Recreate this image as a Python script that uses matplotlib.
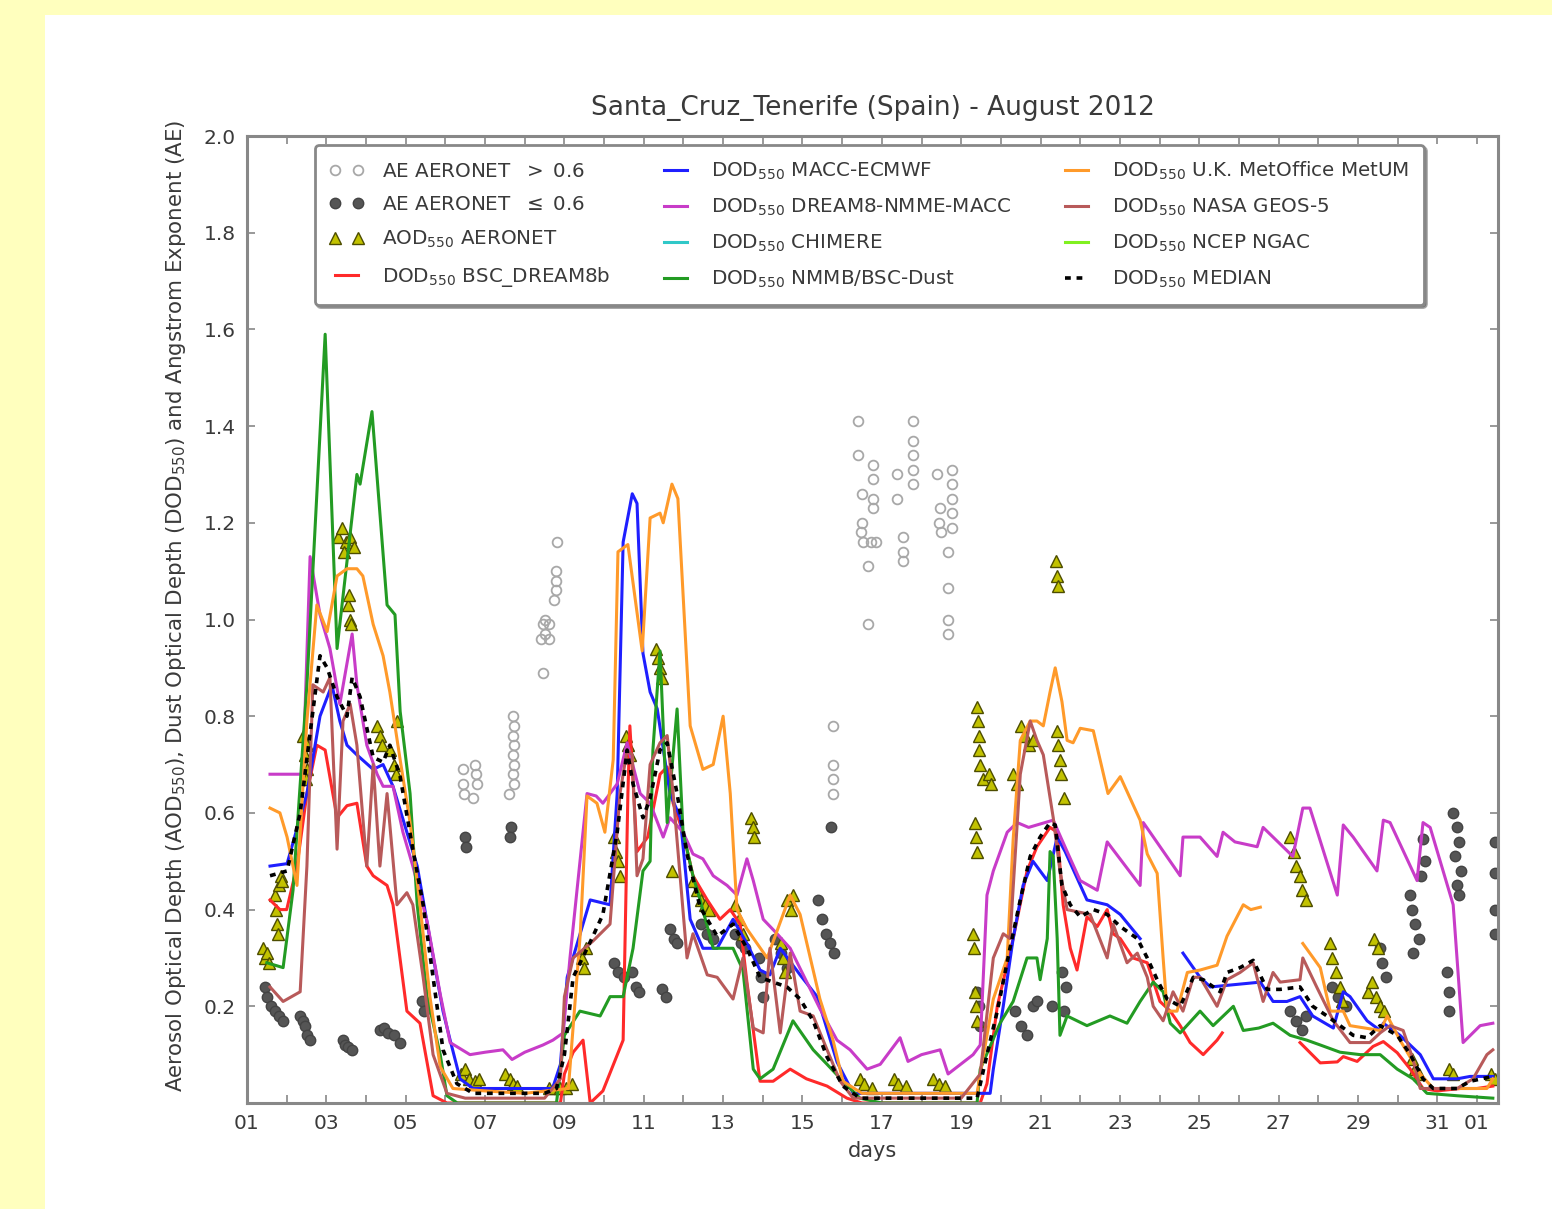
import numpy as np
import matplotlib
matplotlib.use('Agg')
import matplotlib.pyplot as plt
from matplotlib.patches import Rectangle

nan = np.nan

# time in days since 01 Aug 2012 00 UTC, values = optical depth / AE
day_ticks = list(range(0, 32))
day_labels = ['%02d' % (d + 1) if d % 2 == 0 else '' for d in range(31)] + ['01']

# DOD550 BSC_DREAM8b
red_t = [0.58, 0.83, 1.0, 1.26, 1.51, 1.76, 1.97, 2.27, 2.52, 2.77, 3.02, 3.18, 3.53, 3.68, 4.03, 4.36, 4.69, 5.04,
         6.0, 7.0, 7.9, 8.0, 8.22, 8.47, 8.65, 8.97, 9.48, 9.60, 9.65, 9.83, 10.1, 10.41, 10.59, 10.74, 10.99, 11.24,
         11.6, 11.92, 12.18, 12.43, 12.60, 12.93, 13.26, 13.69, 14.1, 14.62, 15.12, 15.5, 16.5, 17.5, 18.48,
         18.65, 18.91, 19.31, 19.66, 19.91, 20.24, 20.42, 20.57, 20.75, 20.92, 21.17, 21.43, 21.68, 21.83, 22.01,
         22.33, 22.69, 23.01, 23.27, 23.52, 23.77, 24.10, 24.45, 24.58, 25.5,
         26.54, 27.05, 27.48, 27.63, 27.98, 28.38, 28.64, 28.99, 29.32, 29.64, 30.0, 30.58, 31.0, 31.40]
red_v = [0.42, 0.40, 0.40, 0.49, 0.64, 0.74, 0.73, 0.59, 0.615, 0.62, 0.49, 0.47, 0.45, 0.41, 0.19, 0.165, 0.015, 0.0,
         0.0, 0.0, 0.0, 0.06, 0.105, 0.13, 0.0, 0.025, 0.13, 0.64, 0.78, 0.52, 0.55, 0.68, 0.695, 0.62, 0.56, 0.47,
         0.42, 0.38, 0.40, 0.37, 0.25, 0.045, 0.045, 0.07, 0.05, 0.035, 0.01, 0.0, 0.0, 0.0, 0.0,
         0.04, 0.20, 0.34, 0.48, 0.53, 0.57, 0.56, 0.41, 0.32, 0.275, 0.385, 0.365, 0.40, 0.35, 0.34,
         0.30, 0.29, 0.21, 0.19, 0.16, 0.125, 0.10, 0.13, 0.145, nan,
         0.125, 0.083, 0.085, 0.096, 0.086, 0.117, 0.127, 0.104, 0.07, 0.03, 0.025, 0.03, 0.03, 0.035]

# DOD550 MACC-ECMWF
blue_t = [0.58, 1.01, 1.51, 1.84, 2.14, 2.34, 2.52, 2.77, 3.18, 3.43, 3.68, 4.03, 4.29, 4.61, 4.94, 5.12, 5.37, 5.70,
          6.5, 7.5, 7.7, 7.9, 8.07, 8.65, 9.15, 9.33, 9.48, 9.71, 9.83, 9.98, 10.16, 10.34, 10.66, 10.92, 11.17,
          11.49, 11.85, 12.25, 12.60, 12.93, 13.18, 13.44, 13.94, 14.37, 14.87, 15.28, 16.0, 17.0, 18.0, 18.73,
          18.81, 19.06, 19.31, 19.56, 19.81, 20.17, 20.42, 20.62, 21.17, 21.68, 22.01, 22.51, 23.0,
          23.59, 24.02, 24.28, 25.54, 25.86, 26.21, 26.54, 26.86, 27.38, 27.63, 27.8, 28.23, 28.56, 28.64, 29.06,
          29.57, 29.90, 30.5, 30.83, 31.40]
blue_v = [0.49, 0.495, 0.64, 0.80, 0.865, 0.79, 0.74, 0.72, 0.69, 0.70, 0.655, 0.56, 0.49, 0.34, 0.19, 0.13, 0.05, 0.03,
          0.03, 0.03, 0.03, 0.08, 0.26, 0.42, 0.41, 0.64, 1.16, 1.26, 1.24, 0.93, 0.85, 0.815, 0.64, 0.59, 0.38,
          0.32, 0.32, 0.38, 0.33, 0.275, 0.265, 0.32, 0.265, 0.22, 0.085, 0.02, 0.02, 0.02, 0.02, 0.02,
          0.07, 0.20, 0.34, 0.45, 0.50, 0.46, 0.55, 0.52, 0.42, 0.41, 0.39, 0.34, nan,
          0.31, 0.26, 0.24, 0.25, 0.21, 0.21, 0.22, 0.18, 0.155, 0.23, 0.22, 0.17, 0.15, 0.165, 0.14,
          0.10, 0.05, 0.05, 0.055, 0.055]

# DOD550 DREAM8-NMME-MACC
mag_t = [0.58, 1.41, 1.59, 1.84, 2.09, 2.34, 2.65, 2.77, 3.02, 3.28, 3.43, 3.68, 3.93, 4.18, 4.54, 4.87, 5.12, 5.62,
         6.0, 6.45, 6.68, 7.0, 7.46, 7.71, 7.97, 8.14, 8.57, 8.8, 8.97, 9.33, 9.58, 9.91, 10.16, 10.49, 10.66, 10.99,
         11.24, 11.49, 11.75, 12.10, 12.35, 12.60, 12.76, 13.01, 13.36, 13.69, 14.02, 14.44, 14.87, 15.20, 15.63,
         15.96, 16.46, 16.66, 17.0, 17.47, 17.67, 18.30, 18.48, 18.65, 18.81, 19.16, 19.41, 19.7, 20.32, 20.67,
         21.0, 21.43, 21.68, 22.51, 22.59, 22.76, 23.52, 23.59, 24.02, 24.45, 24.60, 24.9, 25.46, 25.61, 26.36,
         26.61, 26.79, 27.48, 27.63, 27.88, 28.48, 28.64, 28.81, 29.49, 29.64, 29.82, 30.40, 30.65, 31.08, 31.40]
mag_v = [0.68, 0.68, 1.13, 1.01, 0.94, 0.825, 0.97, 0.865, 0.74, 0.68, 0.655, 0.655, 0.56, 0.49, 0.375, 0.225, 0.125, 0.10,
         0.105, 0.11, 0.09, 0.105, 0.12, 0.13, 0.145, 0.30, 0.64, 0.635, 0.62, 0.66, 0.745, 0.64, 0.62, 0.55, 0.59, 0.56,
         0.515, 0.505, 0.47, 0.45, 0.43, 0.505, 0.46, 0.38, 0.35, 0.32, 0.265, 0.195, 0.13, 0.11, 0.07,
         0.08, 0.135, 0.086, 0.10, 0.11, 0.06, 0.10, 0.12, 0.43, 0.48, 0.56, 0.58, 0.57, 0.585, 0.52,
         0.46, 0.44, 0.54, 0.45, 0.58, 0.56, 0.47, 0.55, 0.55, 0.51, 0.56, 0.54, 0.53, 0.57, 0.51,
         0.61, 0.61, 0.43, 0.575, 0.55, 0.48, 0.585, 0.58, 0.46, 0.58, 0.57, 0.41, 0.125, 0.16, 0.165]

# DOD550 U.K. MetOffice MetUM
org_t = [0.58, 0.83, 1.01, 1.26, 1.51, 1.76, 2.02, 2.27, 2.52, 2.77, 2.92, 3.18, 3.43, 3.60, 3.86, 4.11, 4.36, 4.61, 4.87,
         5.19, 6.0, 7.0, 8.1, 8.4, 8.57, 8.82, 9.02, 9.23, 9.35, 9.60, 9.96, 10.16, 10.41, 10.49, 10.71, 10.86, 11.17,
         11.49, 11.75, 12.0, 12.18, 12.35, 12.60, 13.11, 13.69, 13.94, 14.44, 14.77, 15.02, 15.5, 16.5, 17.5, 18.40,
         18.48, 18.81, 19.16, 19.31, 19.49, 19.74, 19.91, 20.07, 20.24, 20.37, 20.54, 20.67, 20.82, 21.0, 21.33,
         21.70, 22.01, 22.51, 22.69, 22.94, 23.09, 23.19, 23.44, 23.70, 24.02, 24.45, 24.70, 25.11, 25.3, 25.54, 26.0,
         26.61, 27.05, 27.30, 27.63, 27.80, 28.56, 28.74, 29.06, 29.57, 29.90, 30.65, 31.25, 31.40]
org_v = [0.61, 0.60, 0.55, 0.45, 0.79, 1.03, 0.975, 1.09, 1.105, 1.105, 1.09, 0.99, 0.925, 0.85, 0.71, 0.58, 0.41, 0.22, 0.075,
         0.03, 0.025, 0.02, 0.03, 0.35, 0.635, 0.62, 0.56, 0.71, 1.14, 1.155, 0.935, 1.21, 1.22, 1.20, 1.28, 1.25, 0.78,
         0.69, 0.70, 0.80, 0.64, 0.40, 0.36, 0.30, 0.43, 0.39, 0.215, 0.13, 0.045, 0.02, 0.02, 0.02, 0.02,
         0.06, 0.215, 0.30, 0.545, 0.75, 0.79, 0.79, 0.78, 0.85, 0.90, 0.83, 0.75, 0.745, 0.775, 0.77,
         0.64, 0.675, 0.585, 0.515, 0.475, 0.30, 0.19, 0.19, 0.27, 0.275, 0.285, 0.345, 0.41, 0.40, 0.405, nan,
         0.33, 0.28, 0.19, 0.19, 0.16, 0.15, 0.18, 0.13, 0.06, 0.03, 0.03, 0.03, 0.05]

# DOD550 NASA GEOS-5
brn_t = [0.58, 0.91, 1.34, 1.51, 1.66, 1.92, 2.09, 2.27, 2.42, 2.60, 2.77, 3.02, 3.18, 3.35, 3.53, 3.78, 4.03, 4.18, 4.44,
         4.69, 5.04, 5.5, 6.5, 7.5, 7.9, 8.0, 8.22, 8.72, 9.15, 9.40, 9.58, 9.71, 9.83, 9.98, 10.16, 10.41, 10.59,
         10.74, 11.09, 11.24, 11.60, 11.85, 12.25, 12.50, 12.76, 13.01, 13.18, 13.44, 13.69, 13.94, 14.27, 14.62,
         14.95, 15.28, 16.0, 17.0, 18.0, 18.48, 18.81, 19.06, 19.23, 19.49, 19.74, 19.91, 20.07, 20.32, 20.49,
         20.67, 21.25, 21.68, 21.83, 22.18, 22.44, 22.69, 22.84, 23.09, 23.34, 23.59, 23.85, 24.02, 24.45, 24.70,
         25.03, 25.36, 25.61, 25.86, 26.04, 26.54, 26.61, 26.96, 27.38, 27.80, 28.3, 28.56, 28.81, 29.14, 29.39,
         29.57, 30.5, 30.90, 31.25, 31.40]
brn_v = [0.24, 0.21, 0.23, 0.49, 0.865, 0.85, 0.88, 0.525, 0.79, 0.825, 0.74, 0.49, 0.70, 0.49, 0.64, 0.41, 0.435, 0.41, 0.26,
         0.10, 0.02, 0.01, 0.01, 0.01, 0.05, 0.22, 0.30, 0.335, 0.37, 0.64, 0.73, 0.72, 0.47, 0.505, 0.70, 0.745, 0.76,
         0.64, 0.30, 0.35, 0.265, 0.26, 0.215, 0.30, 0.155, 0.145, 0.32, 0.145, 0.31, 0.19, 0.18, 0.11,
         0.045, 0.01, 0.01, 0.01, 0.01, 0.06, 0.30, 0.35, 0.34, 0.68, 0.79, 0.75, 0.72, 0.59, 0.48,
         0.40, 0.39, 0.30, 0.37, 0.29, 0.31, 0.26, 0.20, 0.17, 0.23, 0.19, 0.26, 0.26, 0.20, 0.255,
         0.27, 0.29, 0.21, 0.27, 0.25, 0.255, 0.30, 0.24, 0.17, 0.125, 0.125, 0.145, 0.16, 0.15, 0.09,
         0.03, 0.03, 0.05, 0.10, 0.11]

# DOD550 NMMB/BSC-Dust
grn_t = [0.50, 0.91, 1.16, 1.51, 1.97, 2.27, 2.77, 2.85, 3.15, 3.53, 3.73, 3.86, 4.11, 4.29, 4.54, 4.87, 5.04, 5.3,
         6.5, 7.8, 8.0, 8.39, 8.90, 9.15, 9.48, 9.73, 9.98, 10.16, 10.23, 10.41, 10.59, 10.84, 10.99, 11.24, 11.42,
         11.75, 12.25, 12.50, 12.76, 12.93, 13.26, 13.76, 14.27, 14.62, 15.02, 15.45, 16.0, 17.0, 18.0, 18.40,
         18.48, 18.98, 19.31, 19.66, 19.91, 19.99, 20.17, 20.24, 20.32, 20.42, 20.49, 20.67, 21.17, 21.75, 22.18,
         22.51, 22.84, 23.09, 23.27, 23.52, 24.02, 24.35, 24.86, 25.11, 25.5, 25.86, 26.29, 26.71, 27.05, 27.55,
         28.06, 28.56, 28.99, 29.39, 29.74, 30.5, 31.40]
grn_v = [0.29, 0.28, 0.44, 0.865, 1.59, 0.94, 1.30, 1.28, 1.43, 1.03, 1.01, 0.81, 0.64, 0.41, 0.22, 0.10, 0.015, 0.0,
         0.0, 0.0, 0.14, 0.19, 0.18, 0.22, 0.22, 0.32, 0.48, 0.50, 0.73, 0.935, 0.58, 0.815, 0.56, 0.47, 0.42,
         0.32, 0.32, 0.275, 0.07, 0.05, 0.07, 0.17, 0.11, 0.08, 0.045, 0.01, 0.0, 0.0, 0.0, 0.0,
         0.07, 0.165, 0.21, 0.30, 0.30, 0.255, 0.34, 0.52, 0.51, 0.34, 0.14, 0.18, 0.16, 0.18, 0.165,
         0.21, 0.25, 0.23, 0.165, 0.145, 0.19, 0.16, 0.20, 0.15, 0.155, 0.165, 0.14, 0.13, 0.12, 0.105,
         0.10, 0.10, 0.07, 0.05, 0.02, 0.015, 0.01]

# DOD550 MEDIAN
med_t = [0.58, 1.01, 1.34, 1.59, 1.84, 2.02, 2.27, 2.52, 2.65, 2.85, 3.18, 3.43, 3.60, 3.86, 4.18, 4.44, 4.69, 4.94, 5.29,
         5.7, 6.5, 7.5, 7.8, 8.0, 8.22, 8.72, 8.97, 9.33, 9.58, 9.73, 9.98, 10.16, 10.41, 10.59, 10.84, 11.09, 11.42,
         11.85, 12.25, 12.60, 12.93, 13.26, 13.61, 13.94, 14.27, 14.62, 15.02, 15.45, 16.5, 17.5, 18.40, 18.65,
         18.91, 19.23, 19.49, 19.74, 19.99, 20.24, 20.37, 20.54, 20.75, 21.0, 21.33, 21.68, 22.01, 22.44, 22.69,
         22.94, 23.19, 23.52, 23.85, 24.10, 24.53, 24.70, 25.03, 25.36, 25.71, 26.04, 26.54, 26.86, 27.22, 27.55,
         27.88, 28.23, 28.56, 28.99, 29.32, 29.64, 29.90, 30.5, 30.83, 31.40]
med_v = [0.47, 0.48, 0.60, 0.765, 0.925, 0.90, 0.84, 0.80, 0.88, 0.84, 0.715, 0.705, 0.74, 0.675, 0.525, 0.41, 0.26, 0.11, 0.04,
         0.02, 0.02, 0.02, 0.03, 0.10, 0.26, 0.345, 0.39, 0.56, 0.73, 0.66, 0.59, 0.63, 0.73, 0.745, 0.64, 0.515, 0.405,
         0.345, 0.37, 0.32, 0.26, 0.25, 0.24, 0.215, 0.17, 0.095, 0.035, 0.01, 0.01, 0.01, 0.01, 0.10,
         0.19, 0.32, 0.42, 0.51, 0.55, 0.58, 0.575, 0.45, 0.41, 0.385, 0.40, 0.39, 0.365, 0.34, 0.30,
         0.255, 0.215, 0.20, 0.26, 0.255, 0.23, 0.27, 0.28, 0.295, 0.235, 0.235, 0.24, 0.20, 0.18, 0.16,
         0.14, 0.135, 0.16, 0.14, 0.10, 0.05, 0.03, 0.03, 0.045, 0.055]

# no visible data for these two models
chim_t, chim_v = [], []
ngac_t, ngac_v = [], []

# AERONET Angstrom exponent > 0.6
ae_hi_t = [5.44, 5.44, 5.46, 5.75, 5.77, 5.79, 5.70,
           6.70, 6.72, 6.71, 6.72, 6.71, 6.72, 6.71, 6.72, 6.60,
           7.46, 7.40, 7.45, 7.50, 7.52, 7.60, 7.62, 7.75, 7.78, 7.80, 7.79, 7.82,
           14.77, 14.77, 14.77, 14.77,
           15.40, 15.40, 15.78, 15.78, 15.50, 15.78, 15.78, 15.50, 15.48, 15.52, 15.72, 15.85, 15.65, 15.65,
           16.79, 16.79, 16.79, 16.79, 16.79, 16.39, 16.39, 16.54, 16.54, 16.54,
           17.39, 17.77, 17.77, 17.77, 17.77, 17.77, 17.47, 17.45, 17.50, 17.67, 17.67, 17.67, 17.67]
ae_hi_v = [0.69, 0.66, 0.64, 0.70, 0.68, 0.66, 0.63,
           0.80, 0.78, 0.76, 0.74, 0.72, 0.70, 0.68, 0.66, 0.64,
           0.89, 0.96, 0.99, 0.97, 1.00, 0.99, 0.96, 1.04, 1.06, 1.08, 1.10, 1.16,
           0.78, 0.70, 0.67, 0.64,
           1.41, 1.34, 1.32, 1.29, 1.26, 1.25, 1.23, 1.20, 1.18, 1.16, 1.16, 1.16, 1.11, 0.99,
           1.41, 1.37, 1.34, 1.31, 1.28, 1.30, 1.25, 1.17, 1.14, 1.12,
           1.30, 1.31, 1.28, 1.25, 1.22, 1.19, 1.23, 1.20, 1.18, 1.14, 1.065, 1.00, 0.97]

# AERONET Angstrom exponent <= 0.6
ae_lo_t = [0.45, 0.50, 0.60, 0.70, 0.80, 0.90,
           1.34, 1.40, 1.45, 1.52, 1.58,
           2.42, 2.48, 2.55, 2.65,
           3.35, 3.45, 3.55, 3.70, 3.85,
           4.40, 4.45, 5.50, 5.52, 6.65, 6.62,
           9.25, 9.35, 9.50, 9.70, 9.80, 9.88, 10.45, 10.55, 10.65, 10.75, 10.85, 11.45, 11.6, 11.75,
           12.3, 12.45, 12.55, 12.9, 12.95, 13.0, 13.3, 13.45, 13.6, 14.4, 14.5, 14.6, 14.7, 14.8, 14.72,
           18.40, 18.45, 18.48, 19.35, 19.50, 19.65, 19.80, 19.90, 20.30, 20.55, 20.65, 20.60,
           26.30, 26.45, 26.6, 26.7, 27.35, 27.50, 27.7,
           28.55, 28.6, 28.7, 29.30, 29.35, 29.45, 29.55, 29.40, 29.65, 29.70, 29.60,
           30.25, 30.3, 30.3, 30.40, 30.50, 30.55, 30.45, 30.6, 30.5, 30.55,
           31.45, 31.45, 31.45, 31.45]
ae_lo_v = [0.24, 0.22, 0.20, 0.19, 0.18, 0.17,
           0.18, 0.17, 0.16, 0.14, 0.13,
           0.13, 0.12, 0.115, 0.11,
           0.15, 0.155, 0.145, 0.14, 0.125,
           0.21, 0.19, 0.55, 0.53, 0.57, 0.55,
           0.29, 0.27, 0.26, 0.27, 0.24, 0.23, 0.235, 0.22, 0.36, 0.34, 0.33, 0.37, 0.35, 0.34,
           0.35, 0.33, 0.32, 0.30, 0.26, 0.22, 0.34, 0.31, 0.28, 0.42, 0.38, 0.35, 0.33, 0.31, 0.57,
           0.23, 0.20, 0.16, 0.19, 0.16, 0.14, 0.20, 0.21, 0.20, 0.27, 0.24, 0.19,
           0.19, 0.17, 0.15, 0.18, 0.24, 0.22, 0.20,
           0.32, 0.29, 0.26, 0.43, 0.40, 0.37, 0.34, 0.31, 0.545, 0.50, 0.47,
           0.27, 0.23, 0.19, 0.60, 0.57, 0.54, 0.51, 0.48, 0.45, 0.43,
           0.54, 0.475, 0.40, 0.35]

# AERONET AOD550
aod_t = [0.40, 0.45, 0.50, 0.55, 0.70, 0.72, 0.75, 0.78, 0.80, 0.85, 0.88,
         1.40, 1.45, 1.50, 1.48, 1.52,
         2.30, 2.40, 2.50, 2.60, 2.70, 2.45, 2.55, 2.60, 2.62, 2.58,
         3.28, 3.35, 3.40, 3.60, 3.70, 3.75, 3.78,
         5.40, 5.50, 5.60, 5.75, 5.85, 6.50, 6.62, 6.70, 6.80,
         7.6, 7.75, 7.90, 8.05, 8.2, 8.45, 8.5, 8.55,
         9.25, 9.30, 9.35, 9.40, 9.55, 9.60, 9.65,
         10.30, 10.35, 10.40, 10.45, 10.70,
         11.25, 11.35, 11.45, 11.55, 11.65,
         12.30, 12.40, 12.50, 12.70, 12.75, 12.78,
         13.60, 13.70, 13.75, 13.45, 13.50, 13.55,
         15.45, 15.55, 15.75, 16.3, 16.4, 16.6, 17.3, 17.45, 17.6,
         18.40, 18.42, 18.44, 18.46, 18.48, 18.55, 18.70, 18.75,
         18.35, 18.38, 18.40, 18.30, 18.33, 18.35, 18.38, 18.40,
         19.30, 19.40, 19.50, 19.60, 19.70, 19.80,
         20.40, 20.42, 20.44, 20.42, 20.45, 20.48, 20.52, 20.60,
         26.30, 26.40, 26.45, 26.55, 26.60, 26.70,
         27.30, 27.35, 27.45, 27.55, 27.60,
         28.25, 28.35, 28.45, 28.55, 28.65, 28.40, 28.50,
         29.35, 29.45, 29.55, 30.30, 30.40, 31.35, 31.45]
aod_v = [0.32, 0.30, 0.31, 0.29, 0.43, 0.40, 0.37, 0.35, 0.45, 0.47, 0.46,
         0.76, 0.72, 0.69, 0.67, 0.74,
         1.17, 1.19, 1.16, 1.17, 1.15, 1.14, 1.03, 1.00, 0.99, 1.05,
         0.78, 0.76, 0.74, 0.73, 0.70, 0.68, 0.79,
         0.06, 0.07, 0.05, 0.045, 0.05, 0.06, 0.05, 0.04, 0.035,
         0.03, 0.03, 0.03, 0.03, 0.04, 0.30, 0.28, 0.32,
         0.55, 0.52, 0.50, 0.47, 0.76, 0.74, 0.72,
         0.94, 0.92, 0.90, 0.88, 0.48,
         0.46, 0.44, 0.42, 0.41, 0.40,
         0.41, 0.38, 0.35, 0.59, 0.57, 0.55,
         0.42, 0.40, 0.43, 0.33, 0.30, 0.27,
         0.05, 0.04, 0.03, 0.05, 0.04, 0.035, 0.05, 0.04, 0.035,
         0.82, 0.79, 0.76, 0.73, 0.70, 0.67, 0.68, 0.66,
         0.58, 0.55, 0.52, 0.35, 0.32, 0.23, 0.20, 0.17,
         0.68, 0.66, 0.78, 0.76, 0.74, 0.75,
         1.12, 1.09, 1.07, 0.77, 0.74, 0.71, 0.68, 0.63,
         0.55, 0.52, 0.49, 0.47, 0.44, 0.42,
         0.33, 0.30, 0.27, 0.24, 0.21,
         0.23, 0.25, 0.22, 0.20, 0.19, 0.34, 0.32,
         0.09, 0.07, 0.06, 0.07, 0.06, 0.06, 0.05]

txt = '#3a3a3a'
plt.rcParams['text.color'] = txt
plt.rcParams['axes.labelcolor'] = txt
plt.rcParams['xtick.color'] = txt
plt.rcParams['ytick.color'] = txt

W, H = 1552, 1209
fig = plt.figure(figsize=(W / 100, H / 100), dpi=100, facecolor='#ffffbe')
fig.add_artist(Rectangle((45 / W, 0), 1 - 45 / W, 1 - 15 / H, transform=fig.transFigure,
                         facecolor='white', edgecolor='none', zorder=-5))
ax = fig.add_axes([247 / W, 1 - 1103 / H, (1498 - 247) / W, (1103 - 136) / H])

# AERONET observations
ax.plot(ae_hi_t, ae_hi_v, 'o', mfc='none', mec='#a8a8a8', ms=7, mew=1.3, label=r'AE AERONET  $>$ 0.6')
ax.plot(ae_lo_t, ae_lo_v, 'o', mfc='#555555', mec='#444444', ms=7.5, mew=1, label=r'AE AERONET  $\leq$ 0.6')
ax.plot(aod_t, aod_v, '^', mfc='#c2c200', mec='#4d4d00', ms=9, mew=1, label=r'AOD$_{550}$ AERONET')

# model dust optical depth
lw = 2.2
ax.plot(red_t, red_v, color='#ff2a2a', lw=lw, label=r'DOD$_{550}$ BSC_DREAM8b')
ax.plot(blue_t, blue_v, color='#1f1fff', lw=lw, label=r'DOD$_{550}$ MACC-ECMWF')
ax.plot(mag_t, mag_v, color='#c83cc8', lw=lw, label=r'DOD$_{550}$ DREAM8-NMME-MACC')
ax.plot(chim_t, chim_v, color='#30c8c8', lw=lw, label=r'DOD$_{550}$ CHIMERE')
ax.plot(grn_t, grn_v, color='#239b23', lw=lw, label=r'DOD$_{550}$ NMMB/BSC-Dust')
ax.plot(org_t, org_v, color='#ff9a2a', lw=lw, label=r'DOD$_{550}$ U.K. MetOffice MetUM')
ax.plot(brn_t, brn_v, color='#b85a5a', lw=lw, label=r'DOD$_{550}$ NASA GEOS-5')
ax.plot(ngac_t, ngac_v, color='#80f020', lw=lw, label=r'DOD$_{550}$ NCEP NGAC')
ax.plot(med_t, med_v, color='black', lw=2.6, dashes=(1.6, 1.6), label=r'DOD$_{550}$ MEDIAN')

ax.set_xlim(0, 31.53)
ax.set_ylim(0, 2.0)
ax.set_xticks(day_ticks)
ax.set_xticklabels(day_labels)
ax.set_yticks(np.arange(0.2, 2.01, 0.2))
ax.set_yticklabels(['%.1f' % v for v in np.arange(0.2, 2.01, 0.2)])
ax.tick_params(direction='in', top=True, right=True, length=6, width=1.2, color='#888888',
               labelsize=14.5, pad=8)
for s in ax.spines.values():
    s.set_color('#888888')
    s.set_linewidth(2.2)

ax.set_title('Santa_Cruz_Tenerife (Spain) - August 2012', fontsize=19, pad=15)
ax.set_xlabel('days', fontsize=15, labelpad=6)
ax.set_ylabel(r'Aerosol Optical Depth (AOD$_{550}$), Dust Optical Depth (DOD$_{550}$) and Angstrom Exponent (AE)',
              fontsize=15.4)
ax.yaxis.set_label_coords(-0.047, 0.514)

leg = ax.legend(loc='upper left', bbox_to_anchor=(0.054, 0.991), borderaxespad=0, ncol=3, fontsize=14.3,
                numpoints=2, handlelength=1.75, handletextpad=0.9, columnspacing=2.4, labelspacing=0.74,
                borderpad=0.75, fancybox=True, shadow=True, framealpha=1)
leg.get_frame().set_edgecolor('#888888')
leg.get_frame().set_linewidth(2)

fig.savefig('out.png', dpi=100, facecolor=fig.get_facecolor())
